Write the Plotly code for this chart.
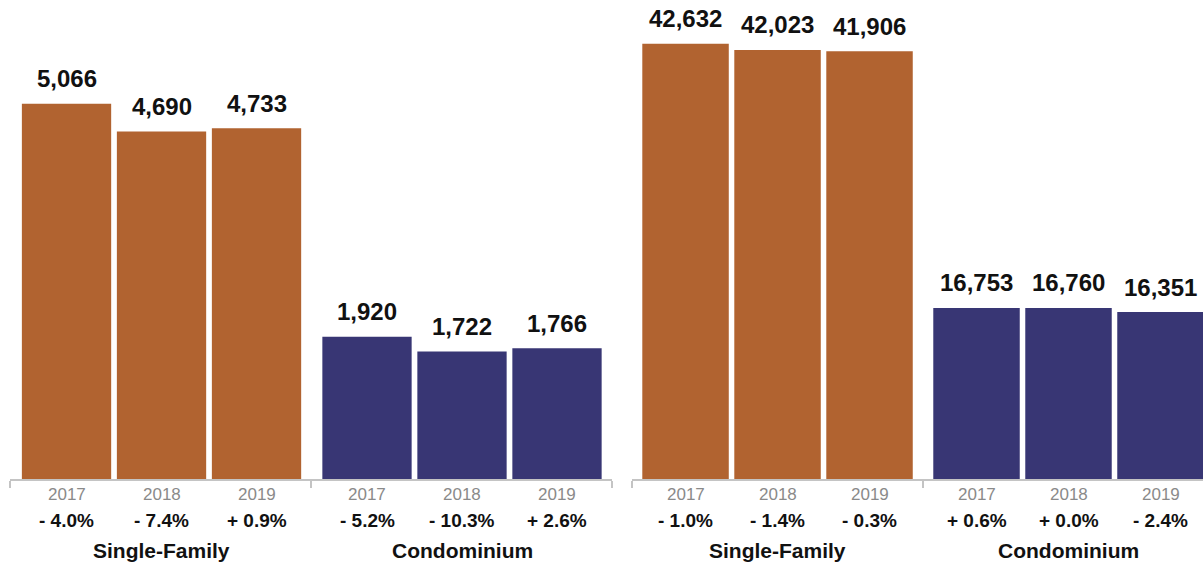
import plotly.graph_objects as go

# ---- data ----
years = ["2017", "2018", "2019"]
groups = ["Single-Family", "Condominium"]

left_sf = [5066, 4690, 4733]
left_condo = [1920, 1722, 1766]
left_sf_pct = [-4.0, -7.4, 0.9]
left_condo_pct = [-5.2, -10.3, 2.6]

right_sf = [42632, 42023, 41906]
right_condo = [16753, 16760, 16351]
right_sf_pct = [-1.0, -1.4, -0.3]
right_condo_pct = [0.6, 0.0, -2.4]

# ---- style ----
ORANGE = "#B16330"
NAVY = "#383674"
GREY_LINE = "#C4C4C4"
GREY_TEXT = "#8A8A8A"
FONT = "Liberation Sans, Arial, Helvetica, sans-serif"

GROUP_GAP = 0.163   # extra spacing between the two groups (in bar-step units)
BAR_W = 0.94


def fmt_pct(v):
    sign = "+" if v >= 0 else "-"
    return f"{sign} {abs(v):.1f}%"


def positions(gi):
    return [gi * (3 + GROUP_GAP) + i for i in range(3)]


fig = go.Figure()
annotations = []

panels = [
    ("x", "y", left_sf, left_condo, left_sf_pct, left_condo_pct),
    ("x2", "y2", right_sf, right_condo, right_sf_pct, right_condo_pct),
]

for xa, ya, sf, condo, sf_pct, condo_pct in panels:
    for gi, (vals, pcts, color) in enumerate([(sf, sf_pct, ORANGE), (condo, condo_pct, NAVY)]):
        xs = positions(gi)
        fig.add_trace(go.Bar(
            x=xs, y=vals, width=BAR_W, marker=dict(color=color, line=dict(width=0)),
            xaxis=xa, yaxis=ya, showlegend=False, hoverinfo="skip",
        ))
        for x, v, p, yr in zip(xs, vals, pcts, years):
            annotations.append(dict(
                x=x, y=v, xref=xa, yref=ya, text=f"<b>{v:,}</b>", showarrow=False,
                yanchor="middle", yshift=25, font=dict(size=24, color="#111111", family=FONT)))
            annotations.append(dict(
                x=x, y=0, xref=xa, yref=ya, text=yr, showarrow=False,
                yanchor="middle", yshift=-15, font=dict(size=17, color=GREY_TEXT, family=FONT)))
            annotations.append(dict(
                x=x, y=0, xref=xa, yref=ya, text=f"<b>{fmt_pct(p)}</b>", showarrow=False,
                yanchor="middle", yshift=-41, font=dict(size=19, color="#111111", family=FONT)))
        annotations.append(dict(
            x=xs[1], y=0, xref=xa, yref=ya, text=f"<b>{groups[gi]}</b>", showarrow=False,
            yanchor="middle", yshift=-71, font=dict(size=21, color="#111111", family=FONT)))

W, H = 1203, 566
left_dom = [10 / W, 612 / W]
right_dom = [632 / W, 1.0]
left_range = [-0.595, 5.742]
right_range = [-0.582, 5.625]
mid_tick = 2 + 0.5 + GROUP_GAP / 2 - 0.003


def xaxis(dom, rng, ticks_at):
    return dict(domain=dom, range=rng, showgrid=False, zeroline=False,
                showline=True, linecolor=GREY_LINE, linewidth=2,
                ticks="outside", tickvals=ticks_at, ticklen=7, tickwidth=2,
                tickcolor=GREY_LINE, showticklabels=False, fixedrange=True)


def yaxis(rng, anchor):
    return dict(domain=[0, 1], range=rng, visible=False, anchor=anchor, fixedrange=True)


fig.update_layout(
    width=W, height=H,
    margin=dict(l=0, r=0, t=0, b=87),
    paper_bgcolor="white", plot_bgcolor="white",
    barmode="overlay",
    xaxis=xaxis(left_dom, left_range, [left_range[0] + 0.005, mid_tick, left_range[1] - 0.005]),
    xaxis2=dict(xaxis(right_dom, right_range, [right_range[0] + 0.005, mid_tick]), anchor="y2"),
    yaxis=yaxis([0, 6465], "x"),
    yaxis2=yaxis([0, 46920], "x2"),
    annotations=annotations,
    font=dict(family=FONT),
)

fig.write_html("out.html")
